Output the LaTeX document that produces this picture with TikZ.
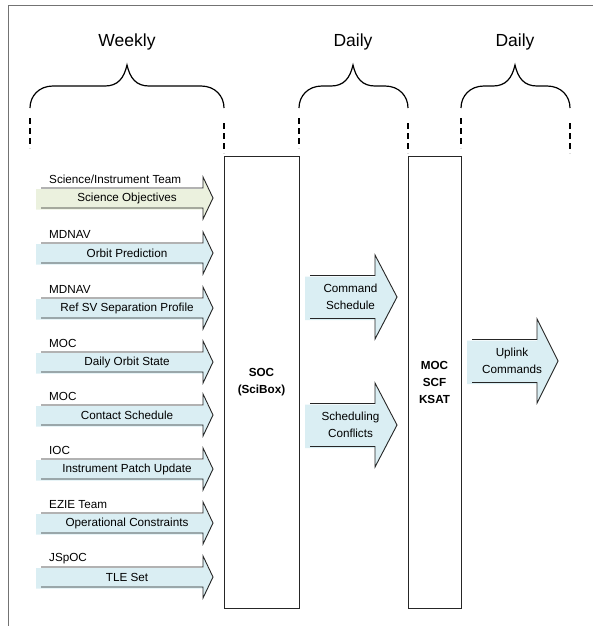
\documentclass[tikz,border=0pt]{standalone}
\usepackage{fontspec}
\setmainfont{Liberation Sans}
\definecolor{lblue}{HTML}{DAEEF3}
\definecolor{lgreen}{HTML}{EBF1DE}
\tikzset{
  frameline/.style={draw=black!55,line width=0.9pt},
  braceline/.style={draw=black,line width=1.2pt},
  dashline/.style={draw=black,line width=1.2pt,dash pattern=on 6pt off 4pt},
  arrowline/.style={draw=black!85,line width=0.9pt,line join=miter},
  txt/.style={inner sep=0pt,font=\fontsize{11.7}{17}\selectfont,align=center},
  head/.style={inner sep=0pt,font=\fontsize{17.5}{20}\selectfont},
  bigbox/.style={draw=black!85,line width=0.9pt,minimum width=75pt,minimum height=452pt,inner sep=0pt,
    font=\bfseries\fontsize{11.7}{17}\selectfont,align=center},
}
\newcommand\mybrace[3]{%
  \draw[braceline] (#1,108) .. controls (#1,96) and ({#1+9},86) .. ({#1+23},86)
    -- ({#2-22},86) .. controls ({#2-9},86) and ({#2-3},78) .. (#2,65)
    .. controls ({#2+3},78) and ({#2+9},86) .. ({#2+22},86)
    -- ({#3-23},86) .. controls ({#3-9},86) and (#3,96) .. (#3,108);}
\newcommand\inarrow[5]{%
  \fill[#5] (36,#2-9) -- (203,#2-9) -- (203,#2-20) -- (213,#2+1) -- (203,#2+22) -- (203,#2+11.5) -- (36,#2+11.5) -- cycle;
  \draw[arrowline] (41,#2-10) -- (203,#2-10) -- (203,#2-21) -- (213,#2) -- (203,#2+21) -- (203,#2+10) -- (41,#2+10);
  \node[txt] (#1) at (127,#2) {#4};
  \node[txt,anchor=west] (#1-src) at (49,#2-18.5) {#3};}
\newcommand\bigarrow[6]{% name, x0, xh, xt, cy, text
  \fill[lblue] ({#2-5},#5-20.5) -- (#3,#5-20.5) -- (#3,#5-41) -- (#4,#5+1) -- (#3,#5+43) -- (#3,#5+23) -- ({#2-5},#5+23) -- cycle;
  \draw[arrowline] (#2,#5-21.5) -- (#3,#5-21.5) -- (#3,#5-42) -- (#4,#5) -- (#3,#5+42) -- (#3,#5+21.5) -- (#2,#5+21.5);
  \node[txt] (#1) at ({(#2+#4)/2-3},#5) {#6};}
\begin{document}
\begin{tikzpicture}[x=1pt,y=-1pt]
\useasboundingbox (0,0) rectangle (593,626);
\draw[frameline] (8,626) -- (8,5) -- (593,5);
% headings
\node[head] (weekly) at (127,42) {Weekly};
\node[head] (daily1) at (353,42) {Daily};
\node[head] (daily2) at (515,42) {Daily};
% braces
\mybrace{30}{127}{224}
\mybrace{299}{353}{408}
\mybrace{461}{515}{570}
% dashed guides
\foreach \x in {30,299,461} \draw[dashline] (\x,118) -- (\x,148);
\foreach \x in {224,408,570} \draw[dashline] (\x,123) -- (\x,153);
% boxes
\node[bigbox] (soc) at (261.5,382) {SOC\\(SciBox)};
\node[bigbox,minimum width=53pt] (moc) at (434.5,382) {MOC\\SCF\\KSAT};
% input arrows
\inarrow{sci}{198}{Science/Instrument Team}{Science Objectives}{lgreen}
\inarrow{orb}{253}{MDNAV}{Orbit Prediction}{lblue}
\inarrow{ref}{308}{MDNAV}{Ref SV Separation Profile}{lblue}
\inarrow{dos}{362}{MOC}{Daily Orbit State}{lblue}
\inarrow{con}{415}{MOC}{Contact Schedule}{lblue}
\inarrow{ipu}{469}{IOC}{Instrument Patch Update}{lblue}
\inarrow{opc}{523}{EZIE Team}{Operational Constraints}{lblue}
\inarrow{tle}{577}{JSpOC}{TLE Set}{lblue}
% middle arrows
\bigarrow{cmd}{310}{375}{397}{297}{Command\\Schedule}
\bigarrow{scf}{310}{375}{397}{425}{Scheduling\\Conflicts}
\bigarrow{upl}{472}{537}{558}{361}{Uplink\\Commands}
\end{tikzpicture}
\end{document}
